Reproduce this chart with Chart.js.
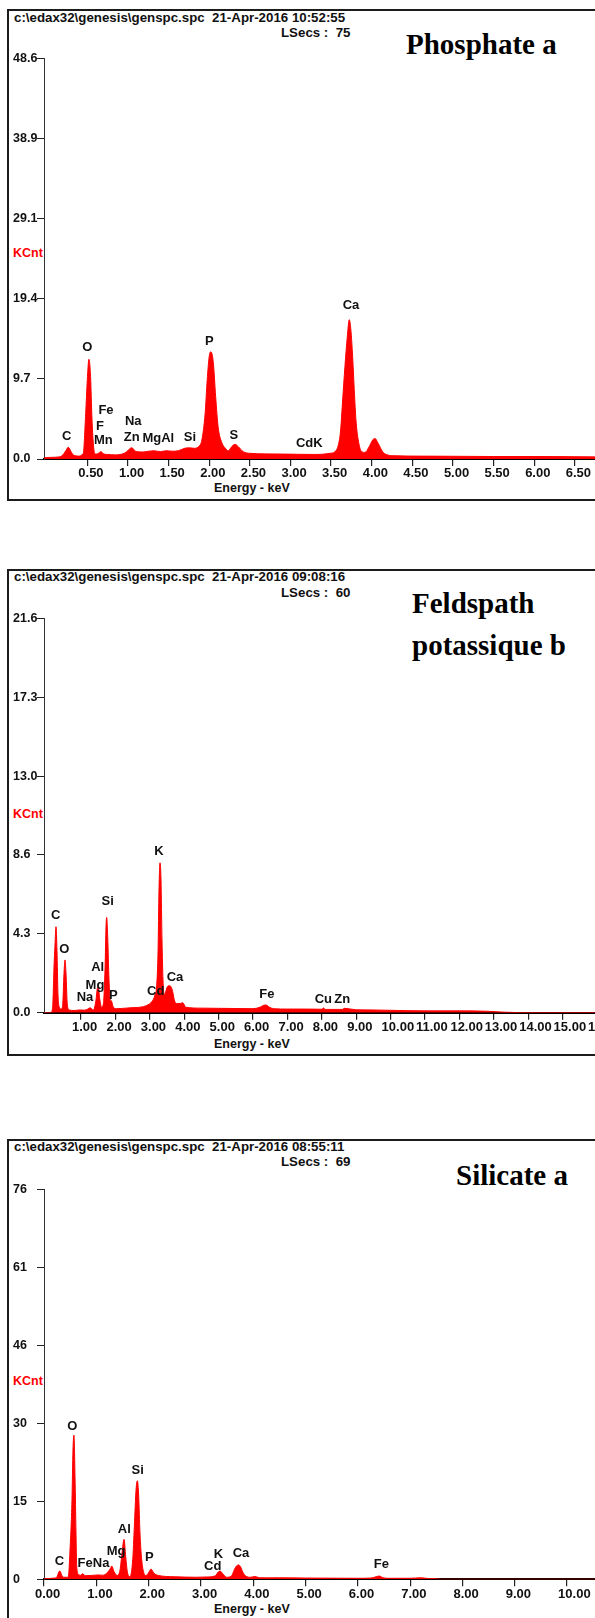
<!DOCTYPE html>
<html>
<head>
<meta charset="utf-8">
<script src="https://cdn.jsdelivr.net/npm/chart.js@4/dist/chart.umd.min.js"></script>
<style>
  html, body { margin:0; padding:0; background:#fff; width:595px; height:1618px; overflow:hidden; }
  .abs { position:absolute; white-space:nowrap; line-height:1; }
  .frame { position:absolute; border:2px solid #1c1c1c; width:720px; box-sizing:border-box; }
  .hdr { font-family:"Liberation Sans", Arial, sans-serif; font-weight:bold; font-size:13.3px; color:#111; }
  .ttl { font-family:"Liberation Serif", "Times New Roman", serif; font-weight:bold; font-size:29px; color:#000; }
  .kc { font-family:"Liberation Sans", Arial, sans-serif; font-weight:bold; font-size:12.5px; color:#ff0000; }
  .en { font-family:"Liberation Sans", Arial, sans-serif; font-weight:bold; font-size:12.5px; color:#111; }
  canvas { position:absolute; left:0; }
</style>
</head>
<body>
<div class="frame" style="left:7px; top:9px; height:492px;"></div>
<div class="frame" style="left:7px; top:569px; height:487px;"></div>
<div class="frame" style="left:7px; top:1139px; height:600px;"></div>

<div class="abs hdr" style="left:14px; top:11px;">c:\edax32\genesis\genspc.spc&nbsp;&nbsp;21-Apr-2016 10:52:55</div>
<div class="abs hdr" style="left:281px; top:26px;">LSecs :&nbsp; 75</div>
<div class="abs ttl" style="left:406px; top:30px;">Phosphate a</div>
<div class="abs kc" style="left:13px; top:247px;">KCnt</div>
<div class="abs en" style="left:214px; top:482px;">Energy - keV</div>

<div class="abs hdr" style="left:14px; top:570px;">c:\edax32\genesis\genspc.spc&nbsp;&nbsp;21-Apr-2016 09:08:16</div>
<div class="abs hdr" style="left:281px; top:586px;">LSecs :&nbsp; 60</div>
<div class="abs ttl" style="left:412px; top:589px;">Feldspath</div>
<div class="abs ttl" style="left:412px; top:631px;">potassique b</div>
<div class="abs kc" style="left:13px; top:807.5px;">KCnt</div>
<div class="abs en" style="left:214px; top:1038px;">Energy - keV</div>

<div class="abs hdr" style="left:14px; top:1140px;">c:\edax32\genesis\genspc.spc&nbsp;&nbsp;21-Apr-2016 08:55:11</div>
<div class="abs hdr" style="left:281px; top:1155px;">LSecs :&nbsp; 69</div>
<div class="abs ttl" style="left:456px; top:1161px;">Silicate a</div>
<div class="abs kc" style="left:13px; top:1375px;">KCnt</div>
<div class="abs en" style="left:214px; top:1603px;">Energy - keV</div>

<canvas id="c1" width="660" height="455" style="top:40px;"></canvas>
<canvas id="c2" width="660" height="450" style="top:600px;"></canvas>
<canvas id="c3" width="660" height="446" style="top:1170px;"></canvas>

<script>
// ---------- Panel 1 : Phosphate a ----------
const energy1 = [-0.03,0.05,0.15,0.2,0.235,0.266,0.3,0.33,0.39,0.45,0.48,0.50,0.52,0.54,0.557,0.574,0.594,0.63,0.668,0.705,0.75,0.85,0.93,0.985,1.046,1.10,1.18,1.26,1.32,1.40,1.47,1.55,1.62,1.70,1.76,1.82,1.88,1.91,1.95,1.976,2.0,2.02,2.05,2.08,2.11,2.155,2.20,2.235,2.277,2.318,2.358,2.42,2.50,2.70,2.90,3.10,3.30,3.487,3.548,3.59,3.618,3.643,3.671,3.70,3.724,3.745,3.766,3.786,3.807,3.835,3.877,3.918,3.97,4.012,4.04,4.08,4.135,4.185,4.27,4.6,5.0,5.5,6.0,6.5,7.0,7.5];
const counts1 = [0.15,0.2,0.25,0.5,1.0,1.42,0.9,0.48,0.36,0.69,5.5,9.6,12.1,10.0,5.0,1.9,0.6,0.65,0.89,0.6,0.55,0.5,0.6,0.89,1.37,0.9,0.85,0.95,1.0,0.9,1.0,0.95,1.0,1.3,1.35,1.3,1.6,2.3,5.5,9.6,12.4,13.0,11.8,7.55,3.9,2.0,1.3,1.0,1.5,1.78,1.5,0.89,0.69,0.62,0.6,0.57,0.55,0.69,0.89,1.7,3.5,7.15,11.2,14.8,16.9,15.6,12.4,8.4,4.7,2.3,0.89,0.8,1.5,2.3,2.5,1.9,0.89,0.53,0.4,0.35,0.33,0.3,0.3,0.28,0.25,0.25];
const yTicks1 = [0, 9.72, 19.44, 29.16, 38.88, 48.6];
const yLabels1 = ['0.0','9.7','19.4','29.1','38.9','48.6'];
const xTicks1 = [0.5,1.0,1.5,2.0,2.5,3.0,3.5,4.0,4.5,5.0,5.5,6.0,6.5,7.0,7.5];
const xLabels1 = ['0.50','1.00','1.50','2.00','2.50','3.00','3.50','4.00','4.50','5.00','5.50','6.00','6.50','7.00','7.50'];
const peakNames1  = ['C','O','Fe','F','Mn','Na','Zn','MgAl','Si','P','S','CdK','Ca'];
const peakEnergy1 = [0.246,0.50,0.73,0.656,0.697,1.066,1.046,1.374,1.764,2.001,2.305,3.232,3.745];
const peakLevel1  = [2.70,13.54,5.94,3.92,2.30,4.52,2.63,2.51,2.63,14.22,2.91,1.90,18.67];

// ---------- Panel 2 : Feldspath potassique b ----------
const energy2 = [-0.07,0.12,0.177,0.215,0.244,0.273,0.302,0.33,0.37,0.42,0.467,0.506,0.535,0.564,0.603,0.66,0.8,0.95,1.1,1.2,1.26,1.36,1.436,1.474,1.503,1.543,1.60,1.65,1.70,1.727,1.747,1.776,1.814,1.852,1.88,1.94,2.04,2.3,2.55,2.715,2.91,3.055,3.15,3.20,3.24,3.267,3.297,3.326,3.355,3.384,3.42,3.46,3.51,3.57,3.616,3.666,3.713,3.78,3.878,3.956,4.05,4.5,5.0,5.5,6.0,6.2,6.3,6.38,6.48,6.6,7.0,7.5,8.0,8.05,8.1,8.6,8.65,9.0,9.5,10.0,11.0,12.0,12.8,13.3,14.0,17.7];
const counts2 = [0,0,0.33,2.5,3.7,4.71,3.4,1.06,0.3,0.2,0.4,2.16,2.89,2.16,0.42,0.15,0.12,0.15,0.14,0.2,0.27,0.15,0.7,1.33,1.42,0.78,0.3,0.5,2.5,4.71,5.22,4.16,1.79,0.7,0.66,0.3,0.22,0.25,0.28,0.3,0.4,0.6,0.97,1.5,3.4,6.7,8.21,7.27,3.98,1.79,0.97,1.15,1.42,1.48,1.42,1.15,0.7,0.5,0.5,0.55,0.3,0.25,0.24,0.23,0.22,0.3,0.4,0.42,0.3,0.22,0.2,0.2,0.19,0.26,0.18,0.18,0.24,0.16,0.15,0.13,0.1,0.1,0.08,0.03,0,0];
const yTicks2 = [0, 4.32, 8.64, 12.96, 17.28, 21.6];
const yLabels2 = ['0.0','4.3','8.6','13.0','17.3','21.6'];
const xTicks2 = [1,2,3,4,5,6,7,8,9,10,11,12,13,14,15,16,17];
const xLabels2 = ['1.00','2.00','3.00','4.00','5.00','6.00','7.00','8.00','9.00','10.00','11.00','12.00','13.00','14.00','15.00','16.00','17.00'];
const peakNames2  = ['C','O','Na','Mg','Al','P','Si','K','Cd','Ca','Fe','Cu','Zn'];
const peakEnergy2 = [0.265,0.515,1.116,1.407,1.485,1.939,1.776,3.267,3.172,3.733,6.401,8.044,8.596];
const peakLevel2  = [5.35,3.47,0.82,1.48,2.46,0.97,6.12,8.82,1.15,1.92,1.02,0.75,0.70];

// ---------- Panel 3 : Silicate a ----------
const energy3 = [0,0.15,0.243,0.287,0.306,0.338,0.38,0.44,0.465,0.497,0.535,0.554,0.573,0.593,0.612,0.625,0.656,0.70,0.74,0.784,0.9,1.04,1.12,1.2,1.275,1.294,1.338,1.40,1.453,1.491,1.53,1.562,1.593,1.644,1.696,1.727,1.76,1.785,1.81,1.835,1.868,1.91,1.95,1.995,2.046,2.10,2.186,2.5,2.9,3.1,3.27,3.33,3.365,3.417,3.49,3.58,3.64,3.68,3.72,3.76,3.80,3.86,3.95,4.03,4.12,4.3,4.5,5.0,5.5,6.0,6.25,6.35,6.41,6.48,6.6,7.0,7.2,7.35,7.5,7.6,11.7];
const counts3 = [0.1,0.2,0.4,1.5,1.6,0.8,0.4,0.4,0.5,5.7,15.5,25.2,28.1,20.0,9.0,2.6,1.0,0.8,1.1,0.7,0.75,0.85,0.8,1.2,2.2,2.6,1.5,0.75,1.8,5.07,7.8,4.4,1.5,0.5,3.8,10.3,17.5,19.2,16.2,9.0,3.8,1.2,0.75,1.2,2.0,1.2,0.75,0.5,0.4,0.45,0.65,1.4,1.6,1.1,0.4,0.6,1.9,2.6,2.8,2.4,1.4,0.6,0.4,0.55,0.3,0.28,0.3,0.25,0.22,0.2,0.25,0.5,0.64,0.3,0.2,0.2,0.3,0.15,0.1,0,0];
const yTicks3 = [0, 15.2, 30.4, 45.6, 60.8, 76];
const yLabels3 = ['0','15','30','46','61','76'];
const xTicks3 = [0,1,2,3,4,5,6,7,8,9,10,11];
const xLabels3 = ['0.00','1.00','2.00','3.00','4.00','5.00','6.00','7.00','8.00','9.00','10.00','11.00'];
const peakNames3  = ['C','O','FeNa','Mg','Al','Si','P','K','Cd','Ca','Fe'];
const peakEnergy3 = [0.293,0.541,0.946,1.377,1.535,1.792,2.013,3.333,3.226,3.767,6.451];
const peakLevel3  = [3.43,29.88,3.08,5.38,9.75,21.31,4.29,4.93,2.59,5.07,2.92];

const RED = '#ff0000';
const FONTFAM = '"Liberation Sans", Arial, sans-serif';
const TICKFONT = { family: FONTFAM, weight: 'bold', size: 13 };

const peakLabelPlugin = {
  id: 'peakLabels',
  afterDatasetsDraw(chart, args, opts) {
    const { ctx, scales } = chart;
    ctx.save();
    ctx.font = 'bold 13px ' + FONTFAM;
    ctx.fillStyle = '#111';
    ctx.textAlign = 'center';
    ctx.textBaseline = 'middle';
    opts.names.forEach((n, i) => {
      ctx.fillText(n, scales.x.getPixelForValue(opts.energy[i]), scales.y.getPixelForValue(opts.level[i]));
    });
    ctx.restore();
  }
};

function makeChart(id, energy, counts, xTicks, xLabels, xMin, xMax, yTicks, yLabels, padTop, padBottom, names, pe, pl) {
  const pts = energy.map((e, i) => ({ x: e, y: counts[i] }));
  return new Chart(document.getElementById(id), {
    type: 'line',
    data: { datasets: [{
      data: pts, borderColor: RED, backgroundColor: RED, borderWidth: 1,
      fill: 'origin', pointRadius: 0, cubicInterpolationMode: 'monotone'
    }]},
    plugins: [peakLabelPlugin],
    options: {
      responsive: false, animation: false, events: [],
      layout: { padding: { left: 13, right: 4, top: padTop, bottom: padBottom } },
      plugins: { legend: { display: false }, tooltip: { enabled: false },
                 peakLabels: { names: names, energy: pe, level: pl } },
      scales: {
        x: {
          type: 'linear', min: xMin, max: xMax,
          afterBuildTicks: s => { s.ticks = xTicks.map(v => ({ value: v })); },
          afterFit: s => { s.height = 30; s.paddingLeft = 0; s.paddingRight = 0; },
          ticks: { autoSkip: false, maxRotation: 0, minRotation: 0, align: 'start', labelOffset: -9,
                   padding: 0, color: '#111', font: TICKFONT, callback: (v, i) => xLabels[i] },
          grid: { drawOnChartArea: false, drawTicks: true, tickLength: 7, color: '#222', lineWidth: 1.2 },
          border: { display: true, color: '#000', width: 2 }
        },
        y: {
          type: 'linear', min: 0, max: yTicks[yTicks.length - 1],
          afterBuildTicks: s => { s.ticks = yTicks.map(v => ({ value: v })); },
          afterFit: s => { s.width = 31; s.paddingTop = 0; s.paddingBottom = 0; },
          ticks: { autoSkip: false, crossAlign: 'far', padding: 2, color: '#111',
                   font: { family: FONTFAM, weight: 'bold', size: 12.5 },
                   callback: (v, i) => yLabels[i] },
          grid: { drawOnChartArea: false, drawTicks: true, tickLength: 7, color: '#222', lineWidth: 1 },
          border: { display: true, color: '#333', width: 1 }
        }
      }
    }
  });
}

makeChart('c1', energy1, counts1, xTicks1, xLabels1, -0.033, 7.5, yTicks1, yLabels1, 18.3, 6, peakNames1, peakEnergy1, peakLevel1);
makeChart('c2', energy2, counts2, xTicks2, xLabels2, -0.0756, 17.715, yTicks2, yLabels2, 18.3, 7.3, peakNames2, peakEnergy2, peakLevel2);
makeChart('c3', energy3, counts3, xTicks3, xLabels3, 0, 11.7, yTicks3, yLabels3, 19.4, 6.7, peakNames3, peakEnergy3, peakLevel3);
</script>
</body>
</html>
